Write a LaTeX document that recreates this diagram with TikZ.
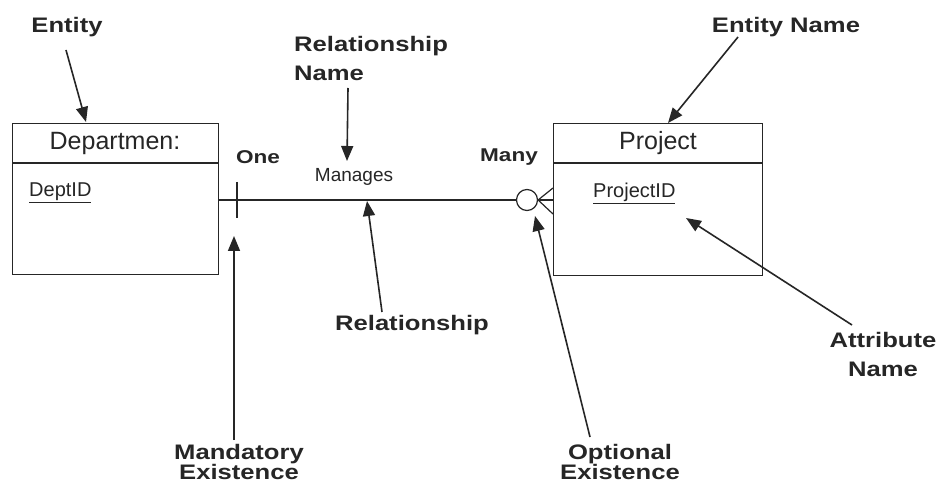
\documentclass[tikz,border=0pt]{standalone}
\usepackage{fontspec}
\setmainfont{Liberation Sans}
\newfontfamily\lblfont{Liberation Sans}[FakeStretch=1.22]
\usetikzlibrary{arrows.meta}
\definecolor{ink}{HTML}{262626}
\begin{document}
\begin{tikzpicture}[x=1pt,y=-1pt,
  every node/.style={text=ink, inner sep=0pt},
  entitybox/.style={draw=ink, line width=1.3pt, minimum width=206pt, minimum height=151pt, anchor=north west},
  enttitle/.style={font=\fontsize{25}{30}\selectfont},
  attrtext/.style={font=\fontsize{20}{24}\selectfont, anchor=base west},
  reltext/.style={font=\fontsize{19}{22}\selectfont},
  cardtext/.style={font=\lblfont\bfseries\fontsize{18.5}{22}\selectfont},
  lblwide/.style={font=\lblfont\bfseries\fontsize{21}{29}\selectfont},
  lbltight/.style={font=\lblfont\bfseries\fontsize{21}{20}\selectfont},
  relline/.style={draw=ink, line width=1.2pt},
  pointer/.style={draw=ink, line width=1.6pt, -{Triangle[length=15pt,width=12pt]}}]
\useasboundingbox[fill=white] (0,0) rectangle (942,486);

% entities
\node[entitybox] (dept) at (12,123) {};
\draw[relline] (12,163) -- (218,163);
\node[enttitle] (deptname) at (115,143) {Departmen:};
\node[attrtext] (deptid) at (29,197) {\underline{DeptID}};

\node[entitybox, minimum width=209pt, minimum height=152pt] (proj) at (553,123) {};
\draw[relline] (553,163) -- (762,163);
\node[enttitle] (projname) at (658,143) {Project};
\node[attrtext] (projid) at (593,198) {\underline{ProjectID}};

% relationship with cardinality marks
\node[circle, draw=ink, line width=1.2pt, minimum size=21pt] (opt) at (527,200) {};
\coordinate (relstart) at (218,200);
\draw[relline] (relstart) -- (opt.west);
\draw[relline] (237,182) -- (237,218);
\coordinate (cf1) at (553,188);
\coordinate (cf2) at (553,200);
\coordinate (cf3) at (553,214);
\draw[relline] (opt.east) -- (cf1);
\draw[relline] (opt.east) -- (cf2);
\draw[relline] (opt.east) -- (cf3);

\node[reltext] (manages) at (354,177) {Manages};
\node[cardtext] (one) at (258,157) {One};
\node[cardtext] (many) at (509,157) {Many};

% callout labels
\node[lblwide] (lentity) at (67,27) {Entity};
\node[lblwide] (lentname) at (786,27) {Entity Name};
\node[lblwide, align=left, anchor=north west] (lrelname) at (294,36) {Relationship\\Name};
\node[lblwide] (lrel) at (412,325) {Relationship};
\node[lblwide, align=center] (lattr) at (883,354) {Attribute\\Name};
\node[lbltight, align=center] (lmand) at (239,462) {Mandatory\\Existence};
\node[lbltight, align=center] (lopt) at (620,462) {Optional\\Existence};

% pointer arrows
\coordinate (pe0) at (66,50);   \coordinate (pe1) at (86,122);
\coordinate (pn0) at (348,88);  \coordinate (pn1) at (347,161);
\coordinate (pen0) at (738,37); \coordinate (pen1) at (668,123);
\coordinate (pr0) at (382,312); \coordinate (pr1) at (367,201);
\coordinate (pm0) at (234,440); \coordinate (pm1) at (234,236);
\coordinate (po0) at (590,437); \coordinate (po1) at (535,216);
\coordinate (pa0) at (852,325); \coordinate (pa1) at (686,218);
\draw[pointer] (pe0) -- (pe1);
\draw[pointer] (pn0) -- (pn1);
\draw[pointer] (pen0) -- (pen1);
\draw[pointer] (pr0) -- (pr1);
\draw[pointer] (pm0) -- (pm1);
\draw[pointer] (po0) -- (po1);
\draw[pointer] (pa0) -- (pa1);
\end{tikzpicture}
\end{document}
